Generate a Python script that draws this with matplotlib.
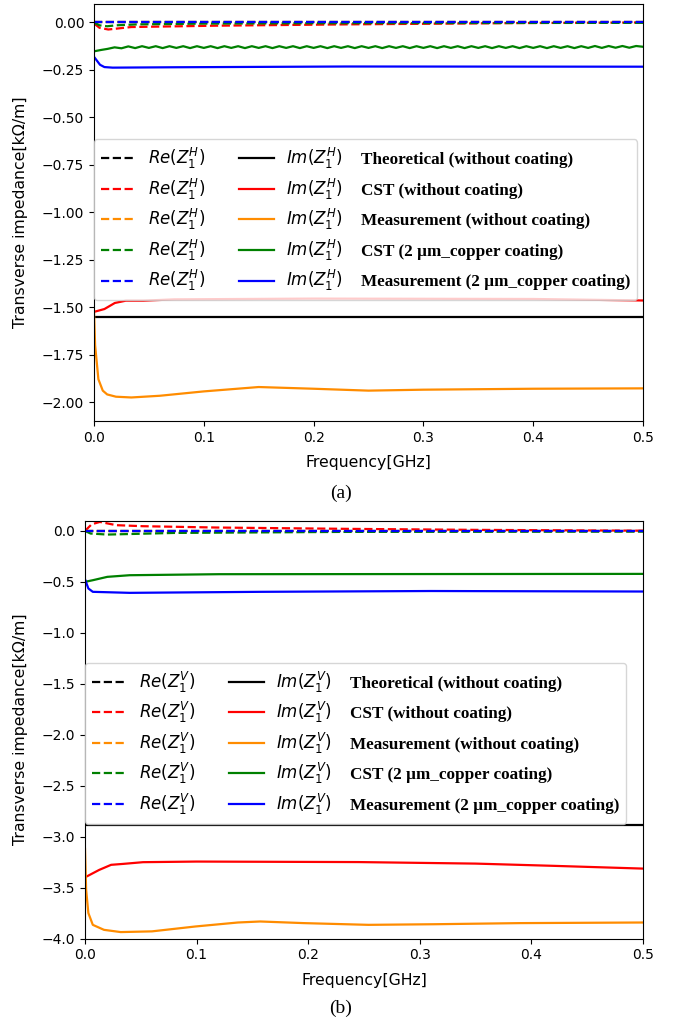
import numpy as np
import matplotlib
matplotlib.use('Agg')
import matplotlib.pyplot as plt
from matplotlib.lines import Line2D

# ---------------- panel (a): horizontal impedance ----------------
theory_a = -1.55

f_a_red_im = [0.0, 0.0095, 0.019, 0.029, 0.045, 0.073, 0.2, 0.4, 0.5]
a_red_im = [-1.525, -1.51, -1.478, -1.466, -1.466, -1.459, -1.455, -1.457, -1.465]
f_a_red_re = [0.0, 0.005, 0.013, 0.034, 0.11, 0.23, 0.39, 0.5]
a_red_re = [-0.005, -0.028, -0.037, -0.024, -0.017, -0.010, -0.003, 0.0]

f_a_org_im = [0.0, 0.001, 0.004, 0.008, 0.012, 0.02, 0.034, 0.06, 0.1, 0.15, 0.2, 0.25,
              0.3, 0.4, 0.5]
a_org_im = [-1.52, -1.70, -1.88, -1.94, -1.96, -1.972, -1.976, -1.967, -1.944, -1.921,
            -1.930, -1.940, -1.935, -1.930, -1.928]
f_a_org_re = [0.0, 0.5]
a_org_re = [0.0, 0.0]

# green (2 um copper, CST) is wavy: sampled at peaks / troughs
a_grn_im = [-0.152, -0.145, -0.139, -0.131, -0.136, -0.126, -0.135, -0.125, -0.134, -0.125,
            -0.135, -0.125, -0.134, -0.125, -0.135, -0.125, -0.134, -0.125, -0.135, -0.125,
            -0.134, -0.125, -0.135, -0.125, -0.134, -0.125, -0.135, -0.125, -0.134, -0.125,
            -0.135, -0.125, -0.134, -0.125, -0.135, -0.125, -0.134, -0.125, -0.135, -0.125,
            -0.134, -0.125, -0.135, -0.125, -0.134, -0.125, -0.135, -0.125, -0.134, -0.125,
            -0.135, -0.125, -0.134, -0.125, -0.135, -0.125, -0.134, -0.125, -0.135, -0.125,
            -0.134, -0.125, -0.135, -0.125, -0.134, -0.125, -0.135, -0.125, -0.134, -0.125,
            -0.135, -0.125, -0.134, -0.124, -0.134, -0.124, -0.133, -0.124, -0.133, -0.124,
            -0.128]
f_a_grn_im = np.linspace(0.0, 0.5, len(a_grn_im))
f_a_grn_re = [0.0, 0.005, 0.012, 0.02, 0.04, 0.1, 0.2, 0.3, 0.5]
a_grn_re = [0.0, -0.015, -0.02, -0.015, -0.01, -0.006, -0.004, -0.003, -0.002]

f_a_blu_im = [0.0, 0.0055, 0.0095, 0.017, 0.073, 0.23, 0.5]
a_blu_im = [-0.181, -0.223, -0.235, -0.238, -0.236, -0.232, -0.233]
f_a_blu_re = [0.0, 0.5]
a_blu_re = [0.0, 0.0]

# ---------------- panel (b): vertical impedance ----------------
theory_b = -2.89

f_b_red_im = [0.0, 0.0127, 0.0234, 0.034, 0.052, 0.1, 0.245, 0.35, 0.42, 0.5]
b_red_im = [-3.40, -3.327, -3.277, -3.268, -3.251, -3.245, -3.25, -3.265, -3.287, -3.314]
f_b_red_re = [0.0, 0.006, 0.0134, 0.028, 0.052, 0.118, 0.235, 0.35, 0.5]
b_red_re = [0.0, 0.065, 0.088, 0.056, 0.046, 0.033, 0.02, 0.01, 0.002]

f_b_org_im = [0.0, 0.001, 0.003, 0.007, 0.017, 0.032, 0.06, 0.099, 0.137, 0.157, 0.196,
              0.254, 0.313, 0.39, 0.5]
b_org_im = [-3.12, -3.52, -3.75, -3.866, -3.915, -3.937, -3.93, -3.882, -3.843, -3.833,
            -3.849, -3.866, -3.86, -3.849, -3.843]
f_b_org_re = [0.0, 0.5]
b_org_re = [0.0, 0.0]

f_b_grn_im = [0.0, 0.007, 0.02, 0.04, 0.12, 0.5]
b_grn_im = [-0.50, -0.484, -0.451, -0.435, -0.425, -0.422]
f_b_grn_re = [0.0, 0.005, 0.02, 0.08, 0.23, 0.5]
b_grn_re = [0.0, -0.026, -0.036, -0.02, -0.01, -0.007]

f_b_blu_im = [0.0, 0.003, 0.007, 0.04, 0.157, 0.31, 0.5]
b_blu_im = [-0.474, -0.565, -0.598, -0.608, -0.598, -0.59, -0.595]
f_b_blu_re = [0.0, 0.5]
b_blu_re = [0.0, 0.0]

colors = ['black', 'red', 'darkorange', 'green', 'blue']
descriptions = ['Theoretical (without coating)', 'CST (without coating)',
                'Measurement (without coating)', 'CST (2 \u00b5m_copper coating)',
                'Measurement (2 \u00b5m_copper coating)']

W, H = 681, 1026
fig = plt.figure(figsize=(W / 100, H / 100), dpi=100)

LEG_FS = 12
COLSP = 2.0


def px_axes(x0, y0, x1, y1):
    return fig.add_axes([x0 / W, 1 - y1 / H, (x1 - x0) / W, (y1 - y0) / H])


def draw_panel(ax, re_curves, im_curves, pol, legend_top, label_x):
    for (f, v), c in zip(re_curves, colors):
        ax.plot(f, v, color=c, linestyle='--', linewidth=1.6)
    for (f, v), c in zip(im_curves, colors):
        ax.plot(f, v, color=c, linestyle='-', linewidth=1.6)
    ax.set_xlim(0, 0.5)
    ax.set_xticks([0.0, 0.1, 0.2, 0.3, 0.4, 0.5])
    ax.set_xlabel('Frequency[GHz]', fontsize=11.3, labelpad=7.5)
    ax.set_ylabel('Transverse impedance[k\u03a9/m]', fontsize=11.3)
    ax.yaxis.set_label_coords(label_x, 0.5)
    ax.tick_params(labelsize=10)

    handles = [Line2D([], [], color=c, linestyle='--', linewidth=1.6) for c in colors]
    handles += [Line2D([], [], color=c, linestyle='-', linewidth=1.6) for c in colors]
    handles += [Line2D([], [], linestyle='none') for c in colors]
    labels = [r'$Re(Z_1^%s)$' % pol] * 5 + [r'$Im(Z_1^%s)$' % pol] * 5 + descriptions
    leg = ax.legend(handles, labels, ncol=3, loc='upper left', bbox_to_anchor=(0.0, legend_top),
                    borderaxespad=0, fontsize=LEG_FS, handlelength=2.1, columnspacing=COLSP,
                    handletextpad=0.75, labelspacing=0.33)
    for t in leg.get_texts()[10:]:
        t.set_fontfamily('Liberation Serif')
        t.set_fontweight('bold')
        t.set_fontsize(12.3)
    # third column: descriptions only, no handle, tighter gap
    col3 = leg._legend_handle_box.get_children()[2]
    for item in col3.get_children():
        item.get_children()[0].width = 0
        item.sep = 13 - COLSP * LEG_FS
    return leg


ax_a = px_axes(94, 3.5, 643, 421)
leg_a = draw_panel(ax_a,
                   [([0, 0.5], [0, 0]), (f_a_red_re, a_red_re), (f_a_org_re, a_org_re),
                    (f_a_grn_re, a_grn_re), (f_a_blu_re, a_blu_re)],
                   [([0, 0.5], [theory_a, theory_a]), (f_a_red_im, a_red_im),
                    (f_a_org_im, a_org_im), (f_a_grn_im, a_grn_im), (f_a_blu_im, a_blu_im)],
                   'H', 0.675, -0.1205)
ax_a.set_ylim(-2.1, 0.1)
ax_a.set_yticks(np.arange(-2.0, 0.01, 0.25))

ax_b = px_axes(85, 520.7, 643, 938.5)
leg_b = draw_panel(ax_b,
                   [([0, 0.5], [0, 0]), (f_b_red_re, b_red_re), (f_b_org_re, b_org_re),
                    (f_b_grn_re, b_grn_re), (f_b_blu_re, b_blu_re)],
                   [([0, 0.5], [theory_b, theory_b]), (f_b_red_im, b_red_im),
                    (f_b_org_im, b_org_im), (f_b_grn_im, b_grn_im), (f_b_blu_im, b_blu_im)],
                   'V', 0.660, -0.1026)
ax_b.set_ylim(-4.0, 0.1)
ax_b.set_yticks(np.arange(-4.0, 0.01, 0.5))

fig.text(341 / W, 1 - 493 / H, '(a)', ha='center', va='center',
         family='Liberation Serif', fontsize=14)
fig.text(341 / W, 1 - 1008 / H, '(b)', ha='center', va='center',
         family='Liberation Serif', fontsize=14)

# give the description rows the same height / baseline as the Im(...) rows
fig.canvas.draw()
renderer = fig.canvas.get_renderer()
dpicor = renderer.points_to_pixels(1.0)
for leg in (leg_a, leg_b):
    cols = leg._legend_handle_box.get_children()
    ref_bb = cols[1].get_children()[0].get_children()[1].get_bbox(renderer)
    for item in cols[2].get_children():
        da = item.get_children()[0]
        da.height = ref_bb.height / dpicor
        da.ydescent = -ref_bb.y0 / dpicor

fig.savefig('out.png', dpi=100)
